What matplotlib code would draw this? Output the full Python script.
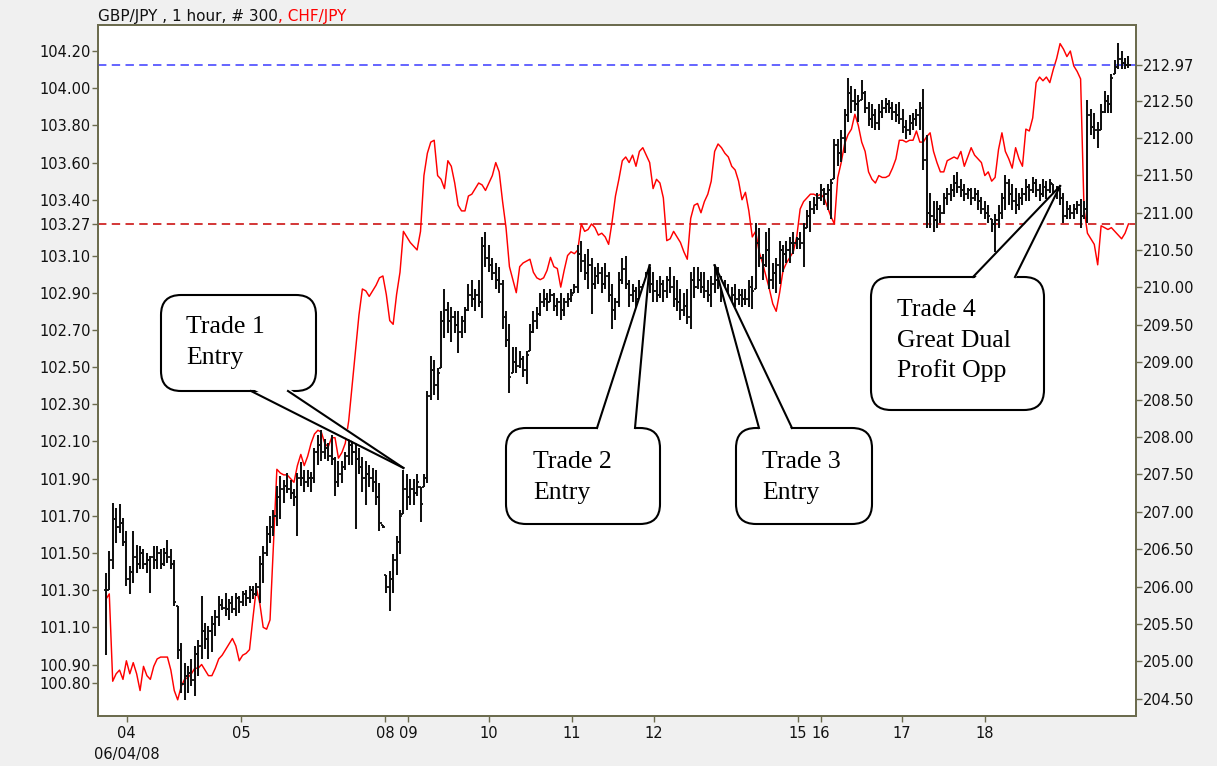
import numpy as np
import matplotlib.pyplot as plt
from matplotlib.patches import FancyBboxPatch, Polygon
from matplotlib.lines import Line2D
from matplotlib.transforms import IdentityTransform

# GBP/JPY hourly bars (right axis)
gbp_high = [
    206.18, 206.47, 207.12, 207.05, 207.10, 206.92, 206.74, 206.27, 206.74, 206.56,
    206.54, 206.50, 206.45, 206.41, 206.54, 206.54, 206.50, 206.52, 206.63, 206.50,
    206.36, 205.74, 205.25, 204.98, 204.94, 205.03, 205.20, 205.29, 205.87, 205.52,
    205.47, 205.61, 205.69, 205.87, 205.83, 205.92, 205.83, 205.87, 205.92, 205.87,
    205.94, 205.96, 206.01, 206.01, 206.05, 206.41, 206.54, 206.81, 206.94, 207.03,
    207.34, 207.48, 207.43, 207.52, 207.43, 207.30, 207.52, 207.66, 207.56, 207.56,
    207.53, 207.86, 208.03, 208.09, 207.97, 207.92, 208.03, 207.74, 207.68, 207.68,
    207.80, 208.03, 207.97, 207.92, 207.86, 207.74, 207.68, 207.62, 207.59, 207.56,
    207.39, 206.82, 206.15, 206.21, 206.44, 206.68, 207.03, 207.56, 207.50, 207.44,
    207.44, 207.50, 207.33, 207.50, 208.62, 209.09, 209.03, 208.92, 209.68, 209.98,
    209.80, 209.74, 209.68, 209.68, 209.62, 209.74, 210.04, 210.10, 209.98, 210.10,
    210.68, 210.74, 210.57, 210.39, 210.33, 210.27, 210.10, 209.68, 209.51, 209.21,
    209.21, 209.15, 209.09, 209.15, 209.51, 209.68, 209.74, 209.92, 209.98, 209.92,
    209.98, 209.92, 209.86, 209.92, 209.86, 209.92, 209.98, 210.04, 210.57, 210.62,
    210.45, 210.51, 210.39, 210.27, 210.33, 210.27, 210.33, 210.21, 210.04, 209.86,
    210.21, 210.39, 210.42, 210.10, 210.04, 210.01, 210.10, 210.04, 210.21, 210.27,
    210.21, 210.10, 210.15, 210.10, 210.15, 210.27, 210.15, 210.10, 209.98, 209.92,
    209.98, 210.21, 210.27, 210.27, 210.21, 210.21, 210.10, 210.15, 210.27, 210.27,
    210.15, 210.10, 210.04, 210.01, 210.04, 209.98, 209.98, 209.98, 210.10, 210.15,
    210.86, 210.80, 210.45, 210.74, 210.80, 210.33, 210.39, 210.62, 210.57, 210.62,
    210.68, 210.74, 210.68, 210.74, 210.86, 211.04, 211.15, 211.21, 211.27, 211.39,
    211.33, 211.39, 211.45, 211.98, 211.98, 212.10, 212.39, 212.80, 212.69, 212.66,
    212.57, 212.77, 212.63, 212.48, 212.45, 212.39, 212.45, 212.51, 212.54, 212.51,
    212.48, 212.45, 212.48, 212.39, 212.24, 212.30, 212.33, 212.39, 212.48, 212.66,
    212.04, 211.27, 211.15, 211.15, 211.10, 211.27, 211.33, 211.39, 211.51, 211.54,
    211.45, 211.39, 211.33, 211.33, 211.33, 211.30, 211.21, 211.15, 211.10, 210.92,
    210.98, 211.10, 211.27, 211.51, 211.45, 211.39, 211.33, 211.27, 211.33, 211.45,
    211.39, 211.48, 211.45, 211.39, 211.45, 211.42, 211.45, 211.39, 211.36, 211.33,
    211.27, 211.15, 211.10, 211.12, 211.15, 211.18, 211.15, 212.51, 212.39, 212.33,
    212.21, 212.45, 212.63, 212.57, 212.86, 213.04, 213.27, 213.16, 213.07, 213.10,
]
gbp_low = [
    205.09, 205.96, 206.23, 206.59, 206.72, 206.54, 206.01, 205.90, 206.05, 206.18,
    206.23, 206.23, 206.18, 205.92, 206.23, 206.23, 206.23, 206.27, 206.32, 206.23,
    205.74, 205.03, 204.58, 204.49, 204.58, 204.67, 204.54, 204.80, 205.03, 205.16,
    205.03, 205.12, 205.34, 205.47, 205.69, 205.61, 205.56, 205.65, 205.61, 205.65,
    205.74, 205.74, 205.78, 205.83, 205.87, 205.78, 206.05, 206.41, 206.59, 206.68,
    206.81, 206.90, 207.12, 207.25, 207.17, 207.08, 206.68, 207.34, 207.27, 207.33,
    207.27, 207.39, 207.62, 207.68, 207.71, 207.68, 207.62, 207.21, 207.33, 207.39,
    207.56, 207.62, 207.62, 206.77, 207.50, 207.27, 207.09, 207.33, 207.27, 207.09,
    206.74, 206.78, 205.91, 205.68, 205.91, 206.15, 206.44, 206.97, 207.03, 207.09,
    207.09, 207.21, 206.86, 207.33, 207.39, 208.50, 208.56, 208.50, 208.92, 209.33,
    209.39, 209.27, 209.39, 209.12, 209.33, 209.39, 209.68, 209.74, 209.68, 209.74,
    209.59, 210.27, 210.21, 210.10, 209.98, 209.92, 209.45, 209.21, 208.59, 208.86,
    208.86, 208.92, 208.80, 208.71, 209.15, 209.39, 209.45, 209.62, 209.74, 209.68,
    209.80, 209.68, 209.62, 209.56, 209.62, 209.74, 209.80, 209.92, 209.92, 210.21,
    210.10, 209.98, 209.65, 209.98, 210.04, 209.92, 209.98, 209.80, 209.45, 209.56,
    209.74, 210.04, 209.98, 209.74, 209.80, 209.74, 209.74, 209.74, 209.80, 209.92,
    209.80, 209.80, 209.86, 209.80, 209.86, 209.92, 209.74, 209.68, 209.56, 209.62,
    209.51, 209.45, 209.86, 209.98, 209.92, 209.86, 209.80, 209.74, 209.92, 209.98,
    209.80, 209.86, 209.74, 209.80, 209.74, 209.77, 209.74, 209.77, 209.74, 209.71,
    209.98, 210.27, 210.10, 210.27, 209.98, 209.98, 209.92, 210.04, 210.21, 210.33,
    210.33, 210.45, 210.51, 210.51, 210.27, 210.80, 210.74, 210.98, 211.04, 211.15,
    211.10, 211.04, 210.92, 211.45, 211.63, 211.68, 211.80, 212.21, 212.33, 212.36,
    212.21, 212.51, 212.33, 212.16, 212.13, 212.10, 212.10, 212.27, 212.33, 212.33,
    212.24, 212.21, 212.18, 212.07, 211.98, 212.04, 212.10, 212.16, 212.10, 211.57,
    210.80, 210.80, 210.74, 210.80, 210.86, 210.98, 211.10, 211.15, 211.21, 211.27,
    211.21, 211.15, 211.18, 211.10, 211.15, 211.04, 210.98, 210.92, 210.86, 210.74,
    210.48, 210.80, 210.92, 211.04, 211.10, 211.04, 210.98, 211.04, 211.10, 211.15,
    211.15, 211.27, 211.21, 211.15, 211.21, 211.18, 211.27, 211.15, 211.18, 211.10,
    210.86, 210.92, 210.92, 210.92, 210.98, 210.80, 210.92, 210.86, 212.04, 211.98,
    211.86, 212.10, 212.33, 212.33, 212.33, 212.86, 212.92, 212.92, 212.92, 212.93,
]
gbp_close = [
    205.95, 206.35, 206.90, 206.80, 206.85, 206.60, 206.10, 206.20, 206.40, 206.30,
    206.45, 206.30, 206.35, 206.40, 206.35, 206.45, 206.30, 206.45, 206.40, 206.30,
    205.80, 205.15, 204.70, 204.80, 204.85, 204.75, 205.10, 205.20, 205.40, 205.30,
    205.40, 205.50, 205.60, 205.75, 205.72, 205.70, 205.78, 205.70, 205.85, 205.80,
    205.90, 205.85, 205.95, 205.90, 206.00, 206.30, 206.45, 206.70, 206.80, 206.95,
    207.20, 207.30, 207.35, 207.30, 207.25, 207.20, 207.45, 207.45, 207.40, 207.45,
    207.45, 207.80, 207.90, 207.80, 207.85, 207.75, 207.70, 207.40, 207.50, 207.60,
    207.75, 207.90, 207.80, 207.70, 207.60, 207.45, 207.50, 207.45, 207.40, 207.20,
    206.85, 206.80, 206.00, 206.10, 206.35, 206.60, 206.95, 207.30, 207.20, 207.30,
    207.25, 207.40, 207.10, 207.45, 208.55, 208.90, 208.70, 208.85, 209.55, 209.70,
    209.55, 209.60, 209.50, 209.40, 209.55, 209.70, 209.90, 209.85, 209.90, 209.80,
    210.55, 210.40, 210.30, 210.20, 210.10, 210.05, 209.60, 209.30, 208.80, 209.00,
    208.95, 209.05, 208.90, 209.10, 209.40, 209.55, 209.65, 209.80, 209.85, 209.80,
    209.90, 209.75, 209.80, 209.70, 209.80, 209.85, 209.90, 210.00, 210.45, 210.35,
    210.20, 210.30, 210.05, 210.15, 210.20, 210.05, 210.15, 209.90, 209.70, 209.80,
    210.10, 210.25, 210.05, 209.90, 209.95, 209.85, 210.00, 209.90, 210.10, 210.05,
    209.95, 209.90, 210.05, 209.95, 210.10, 210.00, 209.85, 209.80, 209.70, 209.75,
    209.60, 210.10, 210.00, 210.10, 210.00, 209.95, 209.90, 210.05, 210.10, 210.05,
    209.95, 209.95, 209.85, 209.90, 209.85, 209.90, 209.85, 209.85, 210.00, 209.95,
    210.60, 210.40, 210.30, 210.50, 210.10, 210.20, 210.30, 210.50, 210.45, 210.50,
    210.60, 210.60, 210.65, 210.60, 210.80, 210.95, 211.05, 211.10, 211.20, 211.30,
    211.25, 211.30, 211.40, 211.90, 211.80, 212.00, 212.30, 212.60, 212.50, 212.45,
    212.50, 212.60, 212.40, 212.25, 212.30, 212.20, 212.35, 212.40, 212.45, 212.40,
    212.35, 212.30, 212.25, 212.15, 212.10, 212.20, 212.25, 212.30, 212.40, 211.70,
    211.00, 210.95, 210.90, 211.05, 211.00, 211.20, 211.25, 211.30, 211.40, 211.35,
    211.30, 211.25, 211.30, 211.20, 211.25, 211.15, 211.05, 211.00, 210.95, 210.85,
    210.90, 211.00, 211.20, 211.40, 211.25, 211.15, 211.10, 211.20, 211.25, 211.35,
    211.30, 211.40, 211.30, 211.25, 211.35, 211.30, 211.40, 211.25, 211.30, 211.20,
    210.95, 211.05, 211.00, 211.05, 211.10, 210.95, 211.05, 212.30, 212.15, 212.10,
    212.10, 212.35, 212.50, 212.45, 212.80, 212.95, 213.05, 213.00, 212.98, 212.97,
]
# CHF/JPY hourly closes (left axis)
chf_close = [
    101.25, 101.28, 100.81, 100.85, 100.87, 100.82, 100.92, 100.85, 100.91, 100.85,
    100.76, 100.89, 100.84, 100.82, 100.89, 100.93, 100.94, 100.94, 100.94, 100.87,
    100.76, 100.71, 100.78, 100.82, 100.83, 100.85, 100.88, 100.88, 100.90, 100.87,
    100.84, 100.84, 100.88, 100.93, 100.95, 100.98, 101.01, 101.04, 101.00, 100.92,
    100.95, 100.96, 100.98, 101.15, 101.31, 101.23, 101.10, 101.09, 101.14, 101.55,
    101.95, 101.93, 101.92, 101.92, 101.90, 101.88, 101.97, 102.03, 101.97, 102.02,
    102.09, 102.14, 102.16, 102.15, 102.09, 102.07, 102.12, 102.12, 102.01, 102.04,
    102.09, 102.21, 102.40, 102.59, 102.78, 102.92, 102.91, 102.88, 102.91, 102.94,
    102.98, 102.99, 102.89, 102.75, 102.73, 102.89, 103.01, 103.23, 103.20, 103.17,
    103.15, 103.13, 103.23, 103.53, 103.65, 103.71, 103.72, 103.53, 103.51, 103.46,
    103.61, 103.58, 103.49, 103.37, 103.34, 103.34, 103.42, 103.43, 103.46, 103.49,
    103.48, 103.45, 103.49, 103.53, 103.60, 103.55, 103.39, 103.25, 103.04, 102.97,
    102.90, 103.04, 103.06, 103.07, 103.08, 103.01, 102.98, 102.97, 102.98, 103.02,
    103.09, 103.04, 103.03, 102.93, 103.02, 103.10, 103.12, 103.11, 103.13, 103.27,
    103.23, 103.24, 103.27, 103.25, 103.21, 103.22, 103.20, 103.16, 103.28, 103.42,
    103.51, 103.61, 103.63, 103.60, 103.64, 103.58, 103.66, 103.68, 103.64, 103.60,
    103.46, 103.51, 103.49, 103.41, 103.18, 103.19, 103.23, 103.20, 103.17, 103.12,
    103.08, 103.30, 103.37, 103.38, 103.33, 103.39, 103.43, 103.50, 103.66, 103.70,
    103.68, 103.65, 103.63, 103.58, 103.56, 103.50, 103.40, 103.44, 103.34, 103.20,
    103.23, 103.12, 103.06, 102.99, 102.92, 102.84, 102.80, 102.90, 103.02, 103.06,
    103.09, 103.12, 103.20, 103.35, 103.39, 103.41, 103.43, 103.43, 103.42, 103.43,
    103.41, 103.36, 103.31, 103.27, 103.52, 103.60, 103.70, 103.75, 103.78, 103.86,
    103.80, 103.71, 103.66, 103.55, 103.51, 103.49, 103.53, 103.52, 103.52, 103.53,
    103.57, 103.62, 103.72, 103.72, 103.71, 103.72, 103.72, 103.77, 103.71, 103.71,
    103.74, 103.76, 103.66, 103.60, 103.55, 103.55, 103.61, 103.62, 103.63, 103.62,
    103.66, 103.58, 103.63, 103.68, 103.64, 103.62, 103.60, 103.53, 103.55, 103.50,
    103.52, 103.67, 103.76, 103.66, 103.62, 103.57, 103.68, 103.62, 103.58, 103.78,
    103.77, 103.84, 104.03, 104.06, 104.04, 104.06, 104.03, 104.10, 104.16, 104.24,
    104.21, 104.17, 104.20, 104.12, 104.09, 104.05, 103.35, 103.22, 103.19, 103.16,
    103.05, 103.26, 103.25, 103.24, 103.25, 103.23, 103.21, 103.19, 103.22, 103.27,
]

day_labels = ['04\n06/04/08', '05', '08', '09', '10', '11', '12', '15', '16', '17', '18']
day_pos = [6.1, 39.5, 81.6, 88.3, 112.0, 136.3, 160.2, 202.3, 209.1, 232.7, 257.0]

left_ticks = [100.80, 100.90, 101.10, 101.30, 101.50, 101.70, 101.90, 102.10, 102.30,
              102.50, 102.70, 102.90, 103.10, 103.27, 103.40, 103.60, 103.80, 104.00, 104.20]
right_ticks = [204.5, 205.0, 205.5, 206.0, 206.5, 207.0, 207.5, 208.0, 208.5, 209.0,
               209.5, 210.0, 210.5, 211.0, 211.5, 212.0, 212.5, 212.97]
chf_level = 103.27
gbp_level = 212.97

callout_text = [['Trade 1', 'Entry'], ['Trade 2', 'Entry'], ['Trade 3', 'Entry'],
                ['Trade 4', 'Great Dual', 'Profit Opp']]
callout_bar = [87, 159, 178, 279]

W, H = 1217, 766
axis_col = '#6b6b4e'

fig = plt.figure(figsize=(W / 100, H / 100), dpi=100, facecolor='#f0f0f0')
ax = fig.add_axes([98 / W, 1 - 716 / H, (1136 - 98) / W, (716 - 25) / H])
ax.set_facecolor('white')
ax2 = ax.twinx()

x = np.arange(len(gbp_high))
hi = np.array(gbp_high)
lo = np.array(gbp_low)
cl = np.array(gbp_close)
op = np.clip(np.concatenate(([cl[0]], cl[:-1])), lo, hi)

ax.plot(x, chf_close, color='#ff0000', lw=1.05, zorder=3)
ax.axhline(chf_level, color='#c80000', lw=1.1, ls=(0, (5.5, 3.5)), zorder=2)

ax2.vlines(x, lo, hi, color='#111111', lw=1.45, zorder=3)
ax2.hlines(op, x - 0.6, x, color='#111111', lw=1.3, zorder=3)
ax2.hlines(cl, x, x + 0.6, color='#111111', lw=1.3, zorder=3)
ax2.axhline(gbp_level, color='#3a3aff', lw=1.1, ls=(0, (5.5, 3.5)), zorder=2)

ax.set_xlim(-2.3, 301.2)
ax.set_ylim(100.623, 104.34)
ax2.set_ylim(204.27, 213.51)

ax.set_xticks(day_pos)
ax.set_xticklabels(day_labels)
ax.set_yticks(left_ticks)
ax.set_yticklabels(['%.2f' % v for v in left_ticks])
ax2.set_yticks(right_ticks)
ax2.set_yticklabels(['%.2f' % v for v in right_ticks])
for lab in ax.get_yticklabels():
    if lab.get_text() == '%.2f' % chf_level:
        lab.set_color('#d00000')
for lab in ax2.get_yticklabels():
    if lab.get_text() == '%.2f' % gbp_level:
        lab.set_color('#2a2aff')

for a in (ax, ax2):
    for s in a.spines.values():
        s.set_color(axis_col)
        s.set_linewidth(1.3)
    a.tick_params(colors=axis_col, labelcolor='#111111', labelsize=10.5, length=4, width=1)
ax.tick_params(axis='y', pad=1)
ax2.tick_params(axis='y', pad=1)
ax.tick_params(axis='x', pad=3)
for lab in ax.get_xticklabels():
    lab.set_multialignment('center')
    lab.set_linespacing(1.5)

# header
t1 = fig.text(98 / W, 1 - 21 / H, 'GBP/JPY , 1 hour, # 300', fontsize=11, color='#111111')
ax.annotate(', CHF/JPY', xy=(1, 0), xycoords=t1, fontsize=11, color='#ff0000', va='bottom')

# callouts, laid out in pixels from the top-left corner
boxes = [(161, 295, 316, 391), (506, 428, 660, 524), (736, 428, 872, 524), (871, 277, 1044, 410)]
bases = [(251, 288, 'bottom'), (597, 635, 'top'), (759, 792, 'top'), (973, 1015, 'top')]
text_x = [186, 533, 762, 897]
text_base = [[333, 364], [468, 499], [468, 499], [316, 347, 377]]

fig.canvas.draw()
idt = IdentityTransform()
for k in range(4):
    x0, y0, x1, y1 = boxes[k]
    box = FancyBboxPatch((x0, H - y1), x1 - x0, y1 - y0,
                         boxstyle='round,pad=0,rounding_size=20',
                         fc='white', ec='black', lw=1.5, transform=idt, zorder=10)
    fig.add_artist(box)
    tx, ty = ax2.transData.transform((callout_bar[k], gbp_high[callout_bar[k]]))
    ty += 2
    bx0, bx1, side = bases[k]
    by = y1 if side == 'bottom' else y0
    inner = -3 if side == 'bottom' else 3
    wedge = Polygon([(bx0, H - by - inner), (tx, ty), (bx1, H - by - inner)], closed=True,
                    fc='white', ec='none', transform=idt, zorder=11)
    fig.add_artist(wedge)
    for bx in (bx0, bx1):
        fig.add_artist(Line2D([bx, tx], [H - by, ty], color='black', lw=1.5,
                              transform=idt, zorder=12))
    for j, s in enumerate(callout_text[k]):
        fig.text(text_x[k] / W, 1 - text_base[k][j] / H, s, family='Liberation Serif',
                 fontsize=18.5, va='baseline', zorder=13)

fig.savefig('out.png', dpi=100, facecolor=fig.get_facecolor())
